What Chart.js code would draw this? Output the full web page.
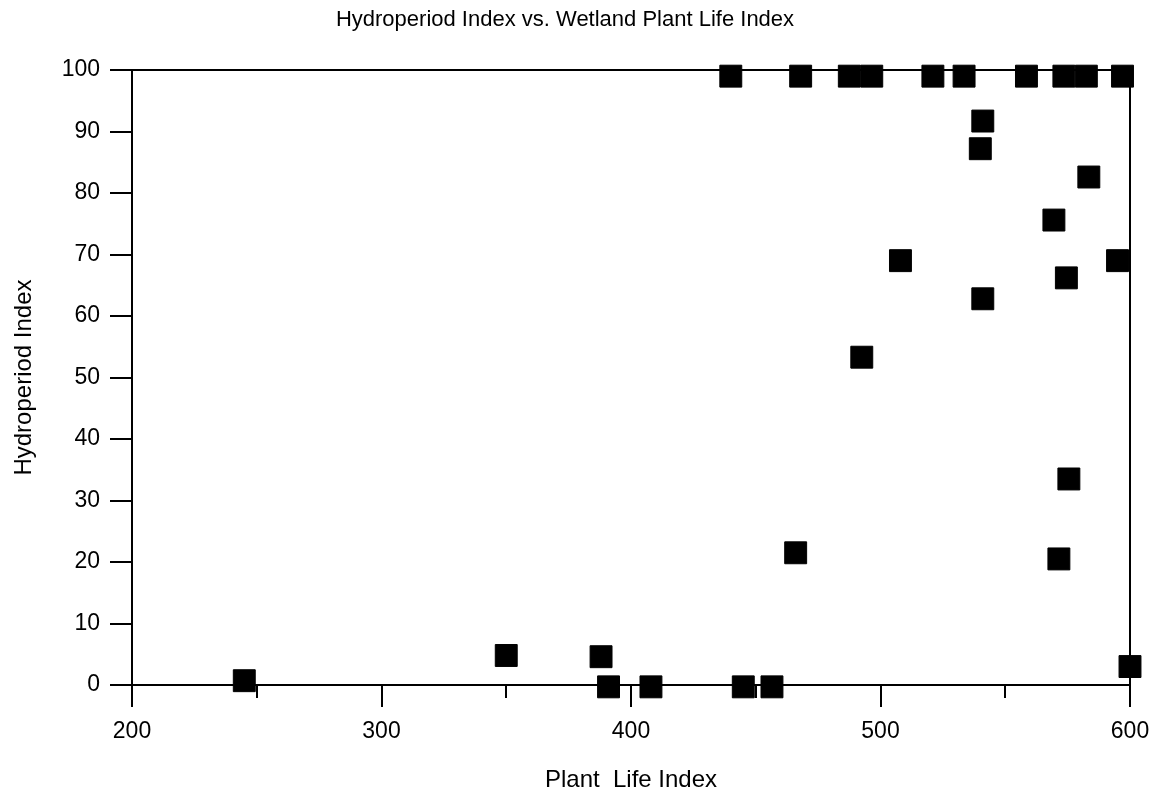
<!DOCTYPE html>
<html>
<head>
<meta charset="utf-8">
<script src="https://cdn.jsdelivr.net/npm/chart.js@4.4.0/dist/chart.umd.min.js"></script>
<style>
  html, body { margin: 0; padding: 0; background: #fff; }
  #wrap { width: 1152px; height: 798px; }
</style>
</head>
<body>
<div id="wrap"><canvas id="chart" width="1152" height="798"></canvas></div>
<script>
// values
const plantLife = [245, 350, 388, 391, 408, 445, 456.5, 466, 571.5, 575.5, 600,
  492.5, 508, 541, 574.5, 595, 569.5, 583.5, 540, 541,
  440, 468, 487.5, 496.5, 521, 533.5, 558.5, 573.5, 582.5, 597];
const hydroperiod = [0.7, 4.8, 4.6, -0.3, -0.3, -0.3, -0.3, 21.5, 20.5, 33.5, 3,
  53.3, 69, 62.8, 66.2, 69, 75.6, 82.6, 87.2, 91.7,
  99, 99, 99, 99, 99, 99, 99, 99, 99, 99];
const xTicks = [200, 300, 400, 500, 600];   // labelled; 250, 350... are short minor ticks
const yTicks = [0, 10, 20, 30, 40, 50, 60, 70, 80, 90, 100];

const font = 'Liberation Sans, Arial, Helvetica, sans-serif';
const points = plantLife.map((x, i) => ({ x: x, y: hydroperiod[i] }));

new Chart(document.getElementById('chart'), {
  type: 'scatter',
  data: {
    datasets: [{
      data: points,
      pointStyle: 'rect',
      pointRadius: 15.5,
      pointBackgroundColor: '#000',
      pointBorderColor: '#000',
      pointBorderWidth: 1,
      clip: false
    }]
  },
  options: {
    responsive: false,
    animation: false,
    layout: { padding: { left: 0, right: 22, top: 0, bottom: 0 } },
    plugins: {
      legend: { display: false },
      tooltip: { enabled: false },
      title: {
        display: true,
        text: 'Hydroperiod Index vs. Wetland Plant Life Index',
        color: '#000',
        font: { family: font, size: 22, weight: 'normal' },
        padding: { top: 7, bottom: 36.6 }
      }
    },
    scales: {
      x: {
        type: 'linear',
        min: 200,
        max: 600,
        afterFit: s => { s.height = 113; s.paddingLeft = 0; s.paddingRight = 0; },
        border: { color: '#000', width: 2 },
        grid: {
          // only the 600 line is drawn across: it is the right frame
          color: c => (c.tick && c.tick.value === 600 ? '#000' : 'rgba(0,0,0,0)'),
          lineWidth: 2,
          tickColor: '#000',
          tickLength: 22,
          tickWidth: 2,
          tickBorderDash: c => (c.tick && xTicks.includes(c.tick.value) ? [] : [12, 60])
        },
        ticks: {
          stepSize: 50,
          color: '#000',
          font: { family: font, size: 23 },
          padding: 11,
          maxRotation: 0,
          callback: v => (xTicks.includes(v) ? String(v) : '')
        },
        title: {
          display: true,
          text: 'Plant  Life Index',
          color: '#000',
          font: { family: font, size: 24 },
          padding: { top: 0, bottom: 3.6 }
        }
      },
      y: {
        type: 'linear',
        min: 0,
        max: 100,
        afterFit: s => { s.width = 132; },
        border: { color: '#000', width: 2 },
        grid: {
          // only the 100 line is drawn across: it is the top frame
          color: c => (c.tick && c.tick.value === 100 ? '#000' : 'rgba(0,0,0,0)'),
          lineWidth: 2,
          tickColor: '#000',
          tickLength: 22,
          tickWidth: 2
        },
        ticks: {
          stepSize: 10,
          color: '#000',
          font: { family: font, size: 23 },
          padding: 10,
          callback: v => (yTicks.includes(v) ? String(v) : '')
        },
        title: {
          display: true,
          text: 'Hydroperiod Index',
          color: '#000',
          font: { family: font, size: 24 },
          padding: { top: 9.6, bottom: 0 }
        }
      }
    }
  }
});
</script>
</body>
</html>
